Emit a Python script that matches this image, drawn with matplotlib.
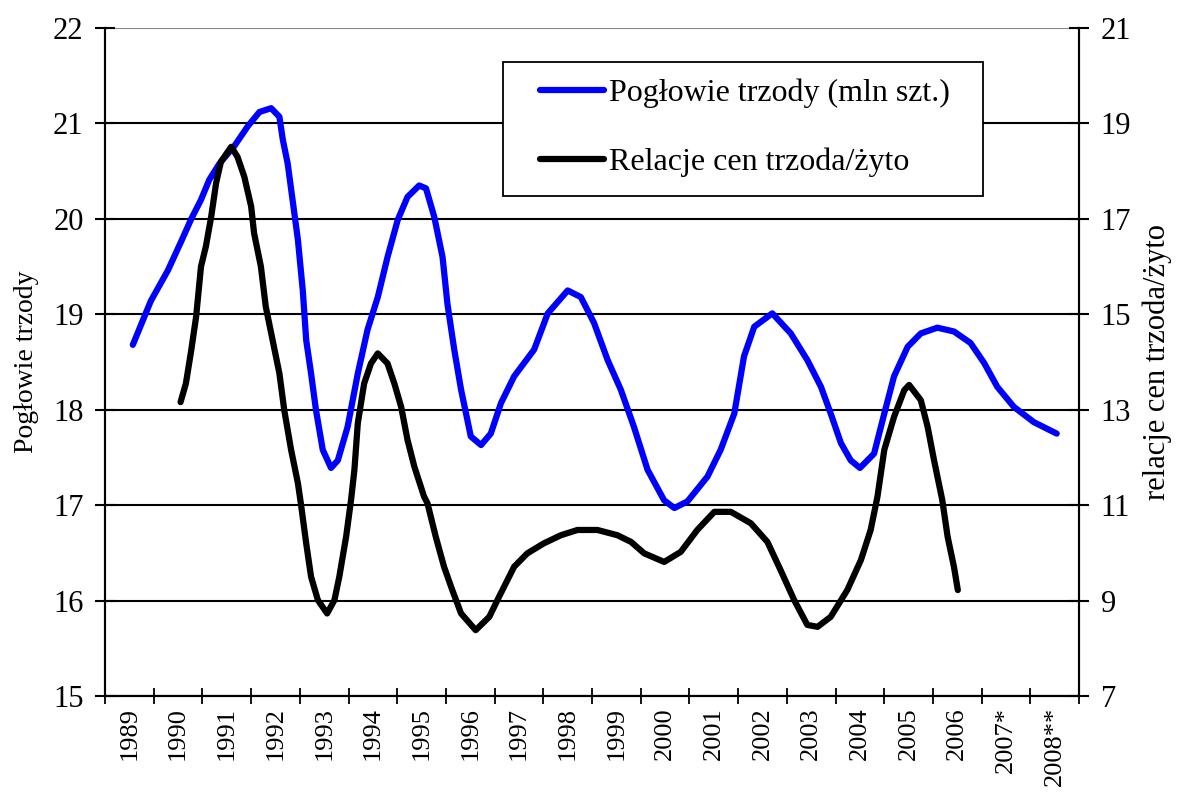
import matplotlib
matplotlib.use("Agg")
import matplotlib.pyplot as plt
from matplotlib.patches import Rectangle

plt.rcParams['font.family'] = ['Liberation Serif', 'DejaVu Serif']

# category labels on the x axis (one per year)
years = list(range(1989, 2009))
year_labels = [str(y) for y in range(1989, 2007)] + ['2007*', '2008**']

# pig herd (mln szt.); time in decimal years
herd_t = [1989.07, 1989.44, 1989.79, 1990.06, 1990.27, 1990.47, 1990.64, 1990.85,
          1991.15, 1991.43, 1991.67, 1991.91, 1992.08, 1992.15, 1992.25, 1992.35,
          1992.46, 1992.56, 1992.63, 1992.73, 1992.83, 1992.97, 1993.14, 1993.28,
          1993.48, 1993.69, 1993.89, 1994.10, 1994.30, 1994.51, 1994.71, 1994.95,
          1995.09, 1995.26, 1995.43, 1995.53, 1995.67, 1995.81, 1996.01, 1996.22,
          1996.42, 1996.63, 1996.90, 1997.31, 1997.59, 1998.00, 1998.27, 1998.54,
          1998.82, 1999.09, 1999.36, 1999.64, 1999.98, 2000.19, 2000.46, 2000.87,
          2001.14, 2001.42, 2001.62, 2001.83, 2002.20, 2002.58, 2002.92, 2003.20,
          2003.40, 2003.61, 2003.81, 2004.00, 2004.29, 2004.50, 2004.70, 2004.98,
          2005.25, 2005.59, 2005.93, 2006.27, 2006.55, 2006.82, 2007.16, 2007.57,
          2008.04]
herd = [18.68, 19.14, 19.46, 19.76, 20.00, 20.20, 20.41, 20.58,
        20.76, 20.97, 21.12, 21.16, 21.07, 20.83, 20.58, 20.20,
        19.78, 19.25, 18.73, 18.38, 18.00, 17.58, 17.39, 17.47,
        17.82, 18.38, 18.84, 19.18, 19.60, 19.99, 20.23, 20.35,
        20.32, 20.02, 19.60, 19.11, 18.63, 18.21, 17.72, 17.63,
        17.75, 18.07, 18.35, 18.63, 19.01, 19.25, 19.18, 18.91,
        18.52, 18.21, 17.82, 17.37, 17.05, 16.97, 17.04, 17.30,
        17.58, 17.96, 18.56, 18.87, 19.01, 18.80, 18.52, 18.24,
        17.96, 17.65, 17.47, 17.39, 17.54, 17.96, 18.35, 18.66,
        18.80, 18.86, 18.82, 18.70, 18.49, 18.24, 18.03, 17.87,
        17.75]

# pig/rye price relation
ratio_t = [1990.05, 1990.16, 1990.27, 1990.37, 1990.47, 1990.57, 1990.68, 1990.78,
           1990.88, 1991.09, 1991.22, 1991.36, 1991.50, 1991.56, 1991.70, 1991.80,
           1991.94, 1992.08, 1992.18, 1992.32, 1992.46, 1992.52, 1992.63, 1992.73,
           1992.87, 1993.06, 1993.21, 1993.31, 1993.45, 1993.55, 1993.62, 1993.69,
           1993.82, 1993.96, 1994.10, 1994.30, 1994.44, 1994.58, 1994.71, 1994.85,
           1995.05, 1995.12, 1995.29, 1995.46, 1995.63, 1995.81, 1996.11, 1996.39,
           1996.59, 1996.90, 1997.17, 1997.51, 1997.86, 1998.20, 1998.61, 1999.02,
           1999.30, 1999.57, 1999.98, 2000.32, 2000.66, 2001.01, 2001.35, 2001.76,
           2002.10, 2002.37, 2002.65, 2002.92, 2003.13, 2003.40, 2003.74, 2004.02,
           2004.22, 2004.36, 2004.50, 2004.70, 2004.91, 2005.01, 2005.25, 2005.39,
           2005.52, 2005.69, 2005.80, 2005.93, 2006.01]
ratio = [13.16, 13.55, 14.25, 14.95, 16.00, 16.42, 17.05, 17.75,
         18.20, 18.51, 18.30, 17.88, 17.26, 16.70, 16.00, 15.16,
         14.46, 13.76, 12.99, 12.16, 11.46, 11.04, 10.20, 9.50,
         9.01, 8.73, 9.01, 9.50, 10.34, 11.10, 11.74, 12.72,
         13.55, 13.97, 14.18, 13.97, 13.55, 13.06, 12.37, 11.81,
         11.18, 11.04, 10.34, 9.71, 9.22, 8.73, 8.38, 8.66,
         9.08, 9.71, 9.99, 10.20, 10.37, 10.48, 10.48, 10.37,
         10.23, 9.99, 9.81, 10.02, 10.48, 10.86, 10.86, 10.62,
         10.23, 9.64, 9.01, 8.49, 8.45, 8.66, 9.22, 9.85,
         10.48, 11.18, 12.16, 12.85, 13.41, 13.52, 13.20, 12.64,
         11.95, 11.11, 10.34, 9.71, 9.22]

fig = plt.figure(figsize=(11.87, 7.92), dpi=100)
ax = fig.add_axes([0.0885, 0.1212, 0.8206, 0.8434])
ax2 = ax.twinx()

l1, = ax.plot(herd_t, herd, color='#0000ff', lw=4.5, solid_capstyle='round',
              solid_joinstyle='round')
l2, = ax2.plot(ratio_t, ratio, color='black', lw=4.5, solid_capstyle='round',
               solid_joinstyle='round')

ax.set_xlim(1988.5, 2008.5)
ax.set_ylim(15, 22)
ax2.set_ylim(7, 21)
ax.set_yticks(range(15, 23))
ax2.set_yticks(range(7, 22, 2))

ax.set_xticks(years)
ax.set_xticklabels(year_labels, rotation=90, fontsize=19)
ax.set_xticks([y - 0.5 for y in years] + [2008.5], minor=True)
ax.tick_params(axis='x', which='major', length=0, pad=8)
ax.tick_params(axis='x', which='minor', direction='inout', length=11, width=1.3)
ax.tick_params(axis='y', direction='inout', length=15, width=1.5, labelsize=22, pad=8)
ax2.tick_params(axis='y', direction='inout', length=15, width=1.5, labelsize=22, pad=8)

ax.yaxis.grid(True, color='black', lw=1.5)
ax.yaxis.get_gridlines()[-1].set_color('#888888')
ax.set_axisbelow(True)

for a in (ax, ax2):
    a.spines['top'].set_visible(False)
    for s in ('left', 'right', 'bottom'):
        a.spines[s].set_linewidth(1.5)

ax.set_ylabel('Pogłowie trzody', fontsize=20, labelpad=10)
ax2.set_ylabel('relacje cen trzoda/żyto', fontsize=22, labelpad=8)

# legend box drawn separately so the padding matches the original
W, H = 1187.0, 792.0
fig.patches.append(Rectangle((503 / W, 1 - 196 / H), 480 / W, 134 / H,
                             transform=fig.transFigure, facecolor='white',
                             edgecolor='black', lw=1.3, zorder=5))
leg = fig.legend([l1, l2], ['Pogłowie trzody (mln szt.)', 'Relacje cen trzoda/żyto'],
                 loc='upper left', bbox_to_anchor=(540 / W, 1 - 79 / H), fontsize=23,
                 frameon=False, handlelength=2.0, handletextpad=0.15,
                 labelspacing=1.22, borderpad=0, borderaxespad=0)
leg.set_zorder(6)

plt.savefig('out.png', dpi=100)
